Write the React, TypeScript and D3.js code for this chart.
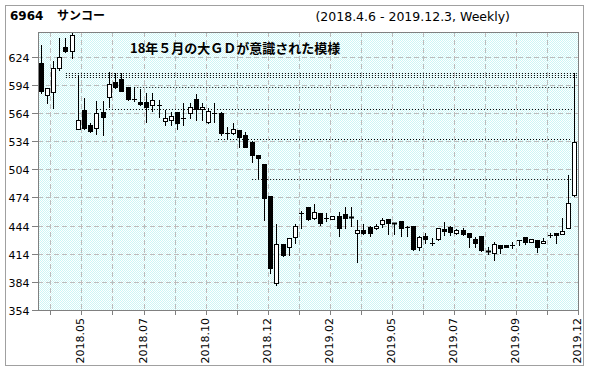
import React from "react";
import * as d3 from "d3";

// Weekly OHLC, 2018.4.6 - 2019.12.3 (87 bars)
const opens = [
  617, 583.2, 586, 612.3, 634.7, 630.4, 547.3, 567.2, 551.2, 547.7,
  565.3, 581.4, 597.4, 599.9, 591.4, 578.5, 576, 576.1, 572.6, 572,
  555.5, 556.6, 564.8, 558.5, 563.7, 578.6, 568, 554.7, 564.5, 564.4,
  542.6, 542.4, 545.9, 540.6, 533.4, 519.2, 509.7, 475.5, 382.5, 424.4,
  420.8, 431.5, 457, 463.5, 451.8, 457.1, 452, 450.7, 454.2, 456.3,
  452.6, 435.8, 439.3, 442.2, 441.1, 445.4, 450.7, 447, 448.9, 442.5,
  443.6, 421.5, 432.9, 425.9, 429.4, 440.4, 442.2, 435.8, 439.3, 435.8,
  429.7, 432.9, 416.4, 415.1, 423.3, 423, 423.4, 428.6, 431.5, 426.8,
  428.6, 425.1, 434.2, 435.8, 434.7, 441.1, 476.6,
];
const highs = [
  636.5, 590.5, 619.5, 643.7, 644.3, 649.6, 604.5, 579.7, 553, 576.8,
  576.8, 608, 606.7, 606.7, 592, 591.4, 590, 585, 585, 577.9,
  567.2, 565, 565.5, 574.4, 574.4, 584.3, 575, 569, 574.4, 565,
  549.4, 553.7, 546, 543.8, 534.2, 519.5, 509.7, 475.5, 445.7, 424.5,
  431, 445.7, 459, 464, 467, 457.5, 457, 454.5, 458.8, 463.8,
  464.1, 450, 445.4, 443.2, 445.7, 452.4, 451, 447, 449, 443,
  444, 432.4, 435.8, 431.1, 441.5, 447.5, 444, 440, 441, 436,
  432.1, 433, 421.5, 426.8, 423.5, 423.3, 426.8, 428.9, 431.6, 429.5,
  428.7, 430.4, 435.8, 435.9, 451.8, 497.9, 606.3,
];
const lows = [
  585.3, 574.4, 569.4, 609.9, 629.4, 622.3, 546.5, 546.6, 544.1, 541.3,
  540.6, 570.4, 590.7, 587.5, 577.9, 576.5, 572, 554.7, 566.5, 560,
  551.2, 551.2, 546.6, 551.2, 558.7, 556.6, 556.6, 553, 554.7, 540.6,
  537, 541.6, 528.1, 528, 512.1, 494.4, 450, 393.1, 380.7, 411.2,
  412.6, 425.1, 441, 450, 451, 444.6, 449.2, 450.5, 432.9, 441.7,
  443.9, 404.9, 434.7, 433.2, 440.4, 442.8, 434.7, 434.7, 433.2, 433.2,
  418, 418, 425.7, 423.3, 429, 434, 434, 435, 434, 421.5,
  421.5, 417.2, 413.7, 407.3, 414.4, 420.7, 419.7, 423.3, 424, 426.5,
  416.2, 425, 432.1, 425.1, 434.5, 441, 476,
];
const closes = [
  587.8, 590.4, 611.7, 623.4, 630.4, 647.2, 556.6, 547.7, 545.2, 563.7,
  560.1, 594.6, 591.4, 587.8, 579.3, 578.8, 574, 570.1, 577.9, 572.3,
  558.4, 560.8, 553, 558.2, 570.7, 568, 570, 566.5, 564.2, 542.4,
  542.2, 546.6, 538.1, 528.1, 519.2, 515.7, 473.1, 398.5, 424, 412.6,
  430.4, 443.6, 457.5, 450.7, 458.8, 447.1, 451.6, 454.2, 441.1, 451.8,
  452.2, 439, 436.4, 435.8, 443.6, 450, 446.4, 446, 441.1, 442,
  418.7, 431.5, 429.4, 425.5, 441.1, 438.2, 437.5, 439.3, 434.7, 431.5,
  425.7, 418, 416, 424, 420.4, 421.5, 423.2, 428.8, 426.8, 429.4,
  421.5, 427.6, 434, 434, 438.2, 467.8, 532.8,
];

// unfilled gap lines (price level, from bar, to bar)
const gapLevels = [606.3, 604.3, 602.2, 591.4, 568, 536, 493.3];
const gapFrom = [4, 4, 4, 15, 9, 28.5, 34];
const gapTo = [86.3, 86.3, 86.3, 86, 85.5, 85.5, 85.5];

const yTicks = [354, 384, 414, 444, 474, 504, 534, 564, 594, 624];
const xGridBars = [2, 7, 12, 17, 22, 27, 32, 37, 42, 47, 52, 57, 62, 67, 72, 77, 82, 87];
const xLabelBars = [7, 17, 27, 37, 47, 57, 67, 77, 87];
const xLabels = ["2018.05", "2018.07", "2018.10", "2018.12", "2019.02", "2019.05", "2019.07", "2019.09", "2019.12"];

const title = "6964";
const titleName = "サンコー";
const subtitle = "(2018.4.6 - 2019.12.3, Weekly)";
const note = "18年５月の大ＧＤが意識された模様";

const W = 590, H = 371;
const L = 38, R = 578, T = 32, B = 310;
const FONT = "'DejaVu Sans', Verdana, sans-serif";
const JFONT = "'Noto Sans CJK JP', 'DejaVu Sans', sans-serif";

export default function App() {
  const N = opens.length;
  const xb = d3.scaleLinear().domain([0, N]).range([L, R]);
  const y = d3.scaleLinear().domain([354, 650.3]).range([B, T]);

  const candles = opens.map((o, i) => {
    const c = closes[i], h = highs[i], l = lows[i];
    const cx = xb(i + 0.5);
    const left = Math.round(cx - 2.5);
    const wx = left + 2.5;
    const top = Math.round(y(Math.max(o, c)));
    const bot = Math.round(y(Math.min(o, c)));
    const yh = Math.round(y(h));
    const yl = Math.round(y(l));
    const up = c >= o;
    return (
      <g key={i}>
        <line x1={wx} x2={wx} y1={yh} y2={yl + 1} stroke="#000" strokeWidth={1} />
        {bot - top < 2 ? (
          <line x1={left} x2={left + 5} y1={top + 0.5} y2={top + 0.5} stroke="#000" strokeWidth={bot - top < 1 ? 1 : 2} />
        ) : (
          <rect x={left + 0.5} y={top + 0.5} width={4} height={bot - top} fill={up ? "#fff" : "#000"} stroke="#000" strokeWidth={1} />
        )}
      </g>
    );
  });

  return (
    <svg width={W} height={H} style={{ position: "absolute", left: 0, top: 0, background: "#fff" }}>
      <defs>
        <pattern id="bgdots" patternUnits="userSpaceOnUse" width={2} height={2}>
          <rect x={0} y={0} width={2} height={2} fill="#ffffff" />
          <rect x={0} y={0} width={1} height={1} fill="#ccf6f6" />
          <rect x={1} y={1} width={1} height={1} fill="#ccf6f6" />
        </pattern>
      </defs>
      <rect x={5.5} y={5.5} width={578} height={360} fill="#fff" stroke="#a0a0a0" />
      <text x={10} y={20} fontFamily={FONT} fontWeight="bold" fontSize={12} fill="#000">{title}</text>
      <text x={57} y={20} fontFamily={JFONT} fontWeight="bold" fontSize={12} fill="#000">{titleName}</text>
      <text x={510} y={21} textAnchor="end" fontFamily={FONT} fontSize={12.5} fill="#000">{subtitle}</text>

      <rect x={L} y={T} width={R - L} height={B - T} fill="url(#bgdots)" />

      {yTicks.filter((t) => t > 354).map((t) => (
        <line key={"hg" + t} x1={L} x2={R} y1={Math.round(y(t)) + 0.5} y2={Math.round(y(t)) + 0.5} stroke="#bcbcbc" strokeDasharray="5,3" />
      ))}
      {xGridBars.filter((k) => k < N).map((k) => (
        <line key={"vg" + k} x1={Math.round(xb(k)) + 0.5} x2={Math.round(xb(k)) + 0.5} y1={T} y2={B} stroke="#bcbcbc" strokeDasharray="5,3" />
      ))}

      {gapLevels.map((lv, j) => (
        <line key={"gap" + j} x1={xb(gapFrom[j] + 0.5)} x2={xb(gapTo[j] + 0.5)} y1={Math.round(y(lv)) + 0.5} y2={Math.round(y(lv)) + 0.5} stroke="#000" strokeDasharray="1,2" />
      ))}

      {candles}

      <text x={130} y={53} fontFamily={JFONT} fontWeight="bold" fontSize={13} fill="#000">{note}</text>

      <rect x={L + 0.5} y={T + 0.5} width={R - L} height={B - T} fill="none" stroke="#808080" />

      {yTicks.map((t) => (
        <g key={"yt" + t}>
          <line x1={32} x2={L} y1={Math.round(y(t)) + 0.5} y2={Math.round(y(t)) + 0.5} stroke="#808080" />
          <text x={29.5} y={Math.round(y(t)) + 4.5} textAnchor="end" fontFamily={FONT} fontSize={11} fill="#000">{t}</text>
        </g>
      ))}
      {xGridBars.map((k) => (
        <line key={"xt" + k} x1={Math.round(xb(k)) + 0.5} x2={Math.round(xb(k)) + 0.5} y1={B} y2={B + 5} stroke="#808080" />
      ))}
      {xLabelBars.map((k, j) => {
        const px = Math.round(xb(k)) + 3;
        return (
          <text key={"xl" + k} transform={`translate(${px},318) rotate(-90)`} textAnchor="end" fontFamily={FONT} fontSize={11} fill="#000">{xLabels[j]}</text>
        );
      })}
    </svg>
  );
}
